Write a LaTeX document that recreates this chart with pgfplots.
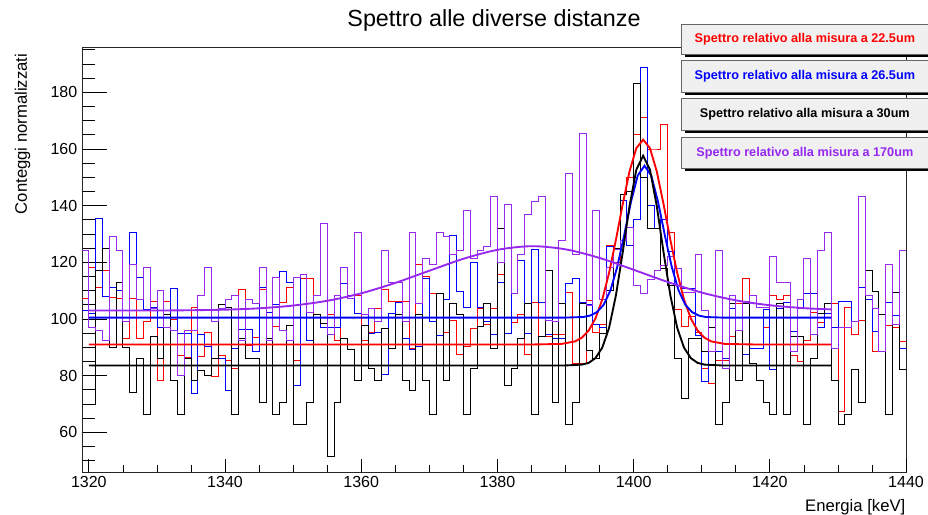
\documentclass[border=0pt]{standalone}
\usepackage{pgfplots}
\pgfplotsset{compat=1.18}
\usepackage{pgfplotstable}
\usepackage{fontspec}
\setmainfont{Liberation Sans}
\definecolor{rootred}{RGB}{255,0,0}
\definecolor{rootblue}{RGB}{0,0,255}
\definecolor{rootviolet}{RGB}{150,40,240}
\definecolor{legfill}{RGB}{240,240,240}

\pgfplotstableread{
x b r u p
1319 70 107.4 103 124.3
1320 70 118.2 102 97.2
1321 117 111.2 135.6 96
1322 125 117 108 92.5
1323 90 107.7 111 129
1324 113 107.4 110 124.3
1325 90 93.3 99 99
1326 74 107.4 130.5 119.4
1327 86 93.3 114.7 107
1328 66.5 99.2 103.3 118.2
1329 94 106.2 104 103.6
1330 86 78.5 97 110
1331 101.5 106.2 100.5 97.2
1332 78.5 100 110.9 96
1333 66.5 87.3 95 80.2
1334 86 86.5 95 96
1335 78.5 104.2 73.6 96
1336 82 86.7 94.5 108.5
1337 80 95.4 90.5 118.2
1338 86 79.6 86 99
1339 105 87.3 86 103.6
1340 104 85.5 74.7 107
1341 66.5 82.6 89.6 108.5
1342 93 110.4 96.4 92.5
1343 86 90.8 96.4 107
1344 86 93.4 88.4 105.4
1345 70.6 110.4 111 118.2
1346 93 102.2 102.2 92.5
1347 66.5 97.5 105 114.7
1348 70.6 106 116.7 96
1349 97.8 111.2 113 92.5
1350 62.7 85.5 76.7 114.7
1351 62.7 114.4 115.9 115.9
1352 70.6 114.4 92.5 102.2
1353 101.5 101.5 101.5 108.5
1354 98.4 98.4 97.2 133.8
1355 51.6 101.8 97.2 94.5
1356 70.6 92.5 97.2 108.5
1357 93 112.4 112.4 118.2
1358 89.4 108.5 108.5 107.4
1359 78.5 108.5 102 130.5
1360 97.8 92.5 101.5 101.5
1361 82.6 95.4 95 103.9
1362 78.5 103.6 95.4 99
1363 96.6 110.4 80.5 124.3
1364 89.6 106.2 102 113
1365 101.5 106.2 105.7 113
1366 78.5 106.2 93.3 99
1367 74.7 89.6 89.2 130.5
1368 101.5 119.4 90.4 105.4
1369 78.5 115 114.2 121.4
1370 66.5 108.9 99 119.4
1371 109.2 94.3 94.3 130.5
1372 78.5 95.4 107 129.1
1373 105.4 99.4 129.4 122.9
1374 101.5 87.6 109.7 124.3
1375 66.5 90.4 104.2 138.5
1376 82.6 96.6 120 121.4
1377 97.5 103.6 104.2 124.3
1378 105.4 98 99 125.8
1379 89.6 103.6 94.5 143.4
1380 132 115.6 113 120
1381 76.7 94.8 94.8 140.5
1382 82.6 98.7 109.1 109.1
1383 93 101.8 120.6 122.9
1384 105.4 87.5 94.8 137
1385 66.5 106 124.7 141.6
1386 93.7 93.7 106 143.4
1387 117 93.7 94.5 99.5
1388 70.6 94.5 93 99
1389 105.4 94.5 93 127.6
1390 62.7 109.5 112.4 151.3
1391 70.6 84.3 114.2 122.9
1392 105.4 84.3 106 165.6
1393 89 106.6 105 104.8
1394 86 95.4 98 138.5
1395 95 98 97 107
1396 110 126 125.5 118.2
1397 125 120 125 124.7
1398 144 144 142 127.6
1399 145 150 126 132.3
1400 183 165 135 111.8
1401 150 171 188.8 109
1402 132 160 140 114
1403 132 160 132 117
1404 118 168.7 135 119
1405 112 130.5 124 122
1406 86 103.5 112 118
1407 72 97.5 110.9 109.5
1408 93 101 110.9 109.5
1409 93 95.4 94.3 122.9
1410 88.4 82.6 77.9 103
1411 97.2 77.3 88.4 88.4
1412 62.7 85.5 88.4 124.3
1413 70.6 85.5 86 82.6
1414 105.4 93.7 103.6 108.5
1415 78.2 105.4 96 96
1416 105.4 114.2 87.5 106.2
1417 84.3 89.6 89.6 108.5
1418 78.5 89.6 89.6 104
1419 70.6 97 103.3 104
1420 66.5 108.5 82.3 122
1421 105.4 107 103.6 113
1422 66.5 108.5 106 113
1423 93.7 87.3 95.6 88.4
1424 93.7 85 103.6 107
1425 62.7 92.5 109.1 121.4
1426 86 102.2 109.1 94.5
1427 102 98.9 97.2 124.3
1428 105.4 105.4 102 130.5
1429 78.5 105.4 97.2 89.6
1430 62.7 67.4 106.2 97.2
1431 66.5 104.2 106.2 97.2
1432 82.3 94.5 99 99
1433 70.6 99.5 111.2 143.4
1434 117 107 107 108.5
1435 109.7 88.4 95.6 103.9
1436 101.8 101.8 101.8 88.4
1437 66.5 97.7 106 119.4
1438 109.5 97.2 101.3 98
1439 82.3 92.2 89.6 124.3
1440 82.3 92.2 89.6 124.3
}\hist

\begin{document}
\begin{tikzpicture}
\begin{axis}[
  width=618pt, height=318.75pt, scale only axis,
  xmin=1319, xmax=1440, ymin=46, ymax=196,
  axis line style={black!85, line width=0.7pt},
  xtick=\empty,
  ytick={60,80,...,180}, minor ytick={50,55,...,195},
  tick pos=left, tick align=inside,
  major tick length=18.5pt, minor tick length=9.75pt,
  tick style={black, line width=0.5pt},
  /pgf/number format/assume math mode=true,
  /pgf/number format/1000 sep={},
  yticklabel style={font=\fontsize{12}{14}\selectfont, xshift=0pt},
  ylabel={Conteggi normalizzati},
  ylabel style={font=\fontsize{12.5}{15}\selectfont, at={(axis description cs:-0.0874,0.995)}, anchor=north east},
  title={Spettro alle diverse distanze},
  title style={font=\fontsize{17.5}{20}\selectfont, at={(axis description cs:0.5,1)}, anchor=base, yshift=9.5pt},
]
\addplot[const plot mark left, rootred, line width=0.55pt] table[x=x,y=r]{\hist};
\addplot[const plot mark left, rootblue, line width=0.55pt] table[x=x,y=u]{\hist};
\addplot[const plot mark left, black, line width=0.55pt] table[x=x,y=b]{\hist};
\addplot[const plot mark left, rootviolet, line width=0.55pt] table[x=x,y=p]{\hist};

\addplot[rootred, line width=1.4pt] coordinates {(1320,91.0) (1385,91.0) (1389.4,91.2) (1391.4,92.1) (1392.4,93.4) (1393.4,95.9) (1394.4,100.2) (1395.4,106.9) (1396.4,116.3) (1397.4,127.9) (1398.4,140.5) (1399.4,152.1) (1400.4,160.3) (1401.4,163.3) (1402.4,160.3) (1403.4,152.1) (1404.4,140.5) (1405.4,127.9) (1406.4,116.3) (1407.4,106.9) (1408.4,100.2) (1409.4,95.9) (1410.4,93.4) (1411.4,92.1) (1413.4,91.2) (1418,91.0) (1429,91.0)};
\addplot[rootblue, line width=1.4pt] coordinates {(1320,100.5) (1390,100.5) (1392.6,100.7) (1393.6,101.2) (1394.6,102.4) (1395.6,105.0) (1396.6,110.1) (1397.6,118.4) (1398.6,129.4) (1399.6,141.2) (1400.6,150.6) (1401.6,154.1) (1402.6,150.6) (1403.6,141.2) (1404.6,129.4) (1405.6,118.4) (1406.6,110.1) (1407.6,105.0) (1408.6,102.4) (1409.6,101.2) (1410.6,100.7) (1413,100.5) (1429,100.5)};
\addplot[black, line width=1.4pt] coordinates {(1320,83.6) (1390,83.6) (1392.4,83.9) (1393.4,84.5) (1394.4,86.2) (1395.4,89.9) (1396.4,96.9) (1397.4,108.3) (1398.4,123.5) (1399.4,139.9) (1400.4,152.7) (1401.4,157.6) (1402.4,152.7) (1403.4,139.9) (1404.4,123.5) (1405.4,108.3) (1406.4,96.9) (1407.4,89.9) (1408.4,86.2) (1409.4,84.5) (1410.4,83.9) (1413,83.6) (1429,83.6)};
\addplot[rootviolet, line width=1.4pt, smooth] coordinates {(1320,103.0) (1330.2,103.0) (1335.2,103.1) (1340.2,103.3) (1345.2,103.8) (1350.2,104.8) (1355.2,106.5) (1360.2,109.2) (1365.2,112.9) (1370.2,117.2) (1375.2,121.4) (1380.2,124.5) (1385.2,125.7) (1390.2,124.5) (1395.2,121.4) (1400.2,117.2) (1405.2,112.9) (1410.2,109.2) (1415.2,106.5) (1420.2,104.8) (1425.2,103.8) (1429,103.4)};
\end{axis}
\begin{axis}[
  width=618pt, height=318.75pt, scale only axis,
  xmin=1319, xmax=1440, ymin=46, ymax=196,
  axis line style={draw=none},
  ytick=\empty,
  xtick={1320,1340,...,1440}, minor xtick={1325,1330,...,1435},
  tick pos=left, tick align=inside,
  major tick length=9.75pt, minor tick length=4.9pt,
  tick style={black, line width=0.5pt},
  /pgf/number format/assume math mode=true,
  /pgf/number format/1000 sep={},
  xticklabel style={font=\fontsize{12}{14}\selectfont},
  xlabel={Energia [keV]},
  xlabel style={font=\fontsize{12.5}{15}\selectfont, at={(axis description cs:1,0)}, anchor=north east, xshift=3pt, yshift=-17pt},
]
\end{axis}
% legend boxes
\begin{scope}[shift={(current axis.north east)}]
  \foreach \yt/\yb/\txt/\col in {17.25/-5.25/{Spettro relativo alla misura a 22.5um}/rootred, -9.75/-33.75/{Spettro relativo alla misura a 26.5um}/rootblue, -38.8/-62.25/{Spettro relativo alla misura a 30um}/black, -67.7/-91/{Spettro relativo alla misura a 170um}/rootviolet}{
    \fill[black] (-166pt,\yb pt-2pt) rectangle (18.5pt,\yt pt-2pt);
    \filldraw[fill=legfill, draw=black!60, line width=0.5pt] (-168.2pt,\yb pt) rectangle (16.5pt,\yt pt);
    \node[text=\col, font=\bfseries\fontsize{9.5}{11}\selectfont] at (-75.85pt,{(\yt+\yb)/2*1pt}) {\txt};
  }
\end{scope}
\pgfresetboundingbox
\path[use as bounding box] ([xshift=-61.5pt,yshift=-31.5pt]current axis.south west) rectangle ([xshift=16.5pt,yshift=35.25pt]current axis.north east);
\end{tikzpicture}
\end{document}
